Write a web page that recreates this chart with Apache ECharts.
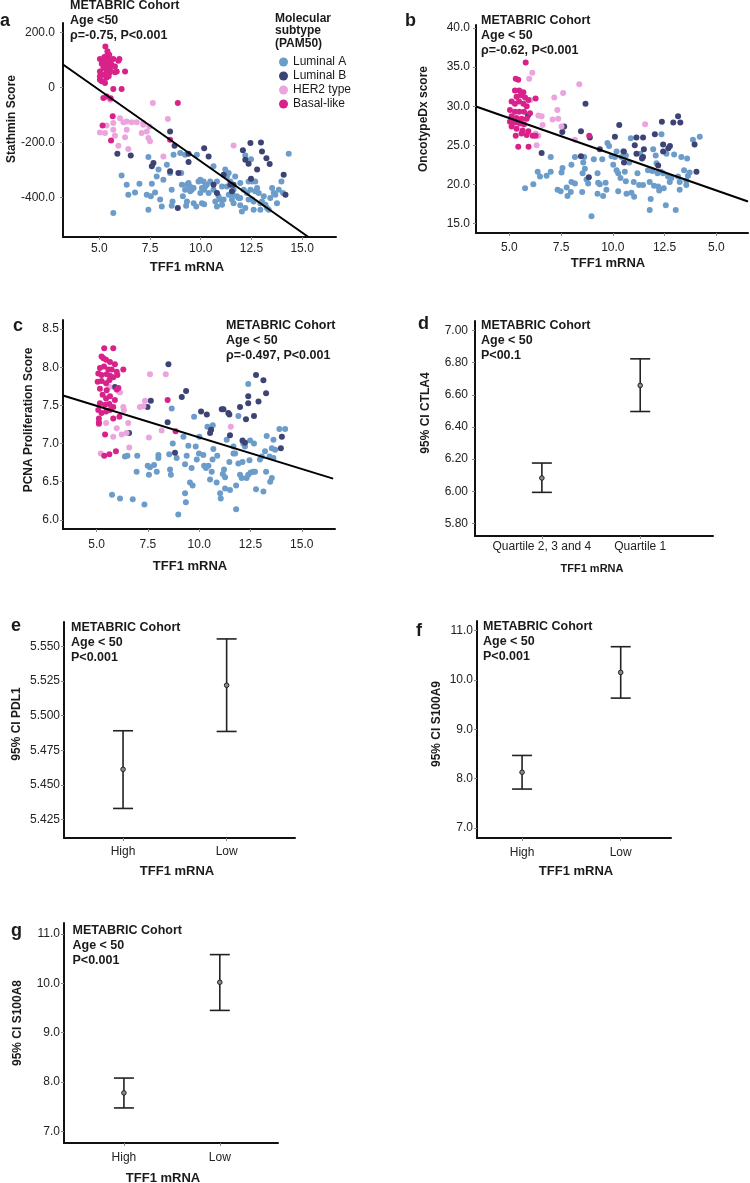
<!DOCTYPE html>
<html>
<head>
<meta charset="utf-8">
<script src="https://cdn.jsdelivr.net/npm/echarts@6/dist/echarts.min.js"></script>
<style>
  html, body { margin: 0; padding: 0; background: #fff; }
  #chart { width: 750px; height: 1183px; }
</style>
</head>
<body>
<div id="chart"></div>
<script>
// ---- panel a: Stathmin score vs TFF1 mRNA ----
const aLumA = [[6.1,-320],[6.35,-354],[6.43,-390],[6.76,-382],[6.98,-350],[7.42,-253],[7.59,-350],[7.34,-390],[7.54,-396],[7.75,-382],[7.83,-324],[7.92,-299],[8.0,-408],[8.08,-433],[8.16,-336],[8.33,-281],[8.49,-311],[8.57,-372],[8.61,-415],[8.66,-245],[8.99,-239],[9.04,-311],[9.07,-354],[9.12,-396],[9.23,-372],[9.32,-354],[9.4,-348],[9.48,-360],[9.56,-372],[9.65,-366],[9.48,-378],[9.32,-415],[9.65,-421],[9.78,-433],[9.81,-245],[9.89,-342],[9.98,-336],[10.06,-366],[10.14,-342],[10.22,-360],[10.3,-354],[10.39,-384],[10.47,-342],[10.63,-287],[10.63,-372],[10.72,-415],[10.8,-342],[10.88,-396],[10.96,-408],[11.05,-427],[11.13,-408],[11.21,-299],[11.29,-324],[11.38,-311],[11.46,-342],[11.54,-408],[11.62,-421],[11.7,-324],[11.79,-396],[11.87,-402],[11.95,-402],[12.03,-451],[12.2,-439],[12.28,-384],[12.36,-408],[12.45,-372],[12.53,-408],[12.61,-415],[12.69,-342],[12.78,-366],[12.86,-384],[12.94,-421],[13.02,-415],[13.11,-396],[13.19,-427],[13.27,-439],[13.35,-445],[13.43,-402],[13.52,-366],[13.6,-384],[13.68,-390],[13.76,-421],[13.85,-372],[13.98,-342],[14.06,-384],[14.34,-241],[5.69,-457],[7.42,-445],[8.57,-430],[9.28,-430],[10.17,-425],[9.23,-245],[12.2,-248],[12.69,-378],[12.36,-342],[12.94,-445],[12.53,-342],[11.29,-360],[11.62,-372],[11.57,-388],[12.12,-372],[11.95,-348],[12.48,-261],[9.98,-384],[10.17,-372],[11.05,-360],[10.06,-421],[11.38,-390],[12.61,-445],[10.8,-433],[11.95,-429]];
const aLumB = [[8.49,-160],[5.89,-241],[6.55,-248],[7.67,-275],[7.59,-287],[8.71,-212],[8.49,-305],[8.9,-311],[9.4,-241],[9.4,-271],[10.17,-221],[10.39,-251],[11.13,-318],[11.46,-354],[12.45,-202],[12.97,-200],[12.2,-263],[12.08,-229],[12.36,-278],[12.78,-299],[13.24,-258],[13.4,-279],[12.48,-332],[13.02,-233],[14.09,-318],[14.18,-390],[11.62,-354],[10.8,-384],[8.87,-439],[10.63,-354],[11.54,-378]];
const aHer2 = [[5.53,-45],[7.64,-57],[8.38,-115],[5.03,-164],[5.36,-139],[5.69,-130],[6.02,-112],[6.19,-127],[6.35,-124],[6.6,-127],[6.35,-154],[6.85,-127],[7.17,-130],[7.34,-160],[7.47,-142],[5.28,-166],[5.77,-176],[6.27,-181],[5.94,-212],[6.43,-224],[7.09,-166],[7.42,-184],[7.5,-196],[8.16,-251],[11.62,-211],[7.17,-136],[5.69,-154]];
const aBasal = [[5.3,149],[5.4,131],[5.03,103],[5.2,101],[5.33,113],[5.49,119],[5.69,103],[5.12,86],[5.28,82],[5.44,88],[5.61,82],[5.77,76],[5.99,103],[5.2,70],[5.36,67],[5.53,64],[5.03,58],[5.36,58],[5.49,52],[5.77,55],[6.27,58],[5.03,28],[5.12,22],[5.28,16],[5.69,-6],[6.1,-6],[5.36,-33],[5.2,-39],[5.56,-40],[5.16,-139],[5.66,-105],[5.58,-193],[8.49,-190],[8.87,-57],[5.03,40],[5.2,46],[5.46,40],[5.23,91],[5.4,101],[5.86,58],[5.94,97],[5.33,95],[5.45,75],[5.25,110],[5.55,100],[5.35,35]];
const aFit = [[3.21,83],[15.31,-544]];

// ---- panel b: OncotypeDx score vs TFF1 mRNA ----
const bLumA = [[5.76,19.5],[6.16,20.0],[6.37,21.6],[6.48,21.0],[6.8,21.1],[7.0,21.6],[7.0,23.5],[7.33,19.3],[7.48,19.1],[7.52,21.5],[7.57,22.1],[7.77,19.6],[7.81,18.5],[7.97,19.0],[8.0,20.3],[8.0,22.5],[8.17,23.5],[8.17,20.1],[8.54,21.4],[8.57,22.8],[8.62,23.5],[8.65,22.0],[8.73,20.6],[8.52,19.0],[8.81,20.1],[8.97,15.9],[9.08,23.2],[9.26,21.4],[9.29,20.2],[9.37,20.0],[9.26,18.8],[9.49,23.2],[9.53,18.5],[9.65,20.2],[9.69,19.3],[9.74,25.3],[9.82,24.9],[10.02,22.5],[10.1,23.5],[10.18,24.2],[10.18,21.8],[10.26,21.4],[10.26,19.1],[10.37,20.8],[10.42,23.5],[10.5,24.2],[10.63,20.4],[10.58,21.6],[10.66,18.8],[10.63,23.7],[10.79,22.8],[10.9,18.9],[10.87,25.9],[11.01,20.3],[11.03,18.4],[11.19,21.4],[11.27,19.9],[11.33,23.9],[11.46,19.9],[11.78,20.3],[11.7,21.8],[11.78,16.7],[11.83,18.1],[11.91,21.7],[11.95,24.5],[11.99,19.8],[12.07,23.7],[12.11,22.7],[12.16,21.4],[12.19,19.7],[12.24,19.2],[12.32,21.6],[12.35,26.4],[12.43,21.4],[12.46,19.5],[12.56,17.3],[12.59,23.9],[12.67,21.0],[12.75,20.3],[12.83,20.8],[12.96,23.8],[13.04,16.7],[13.15,21.0],[13.23,19.3],[13.23,20.3],[13.31,23.5],[13.44,21.8],[13.55,20.5],[13.59,23.3],[13.63,21.1],[13.71,21.5],[13.55,19.9],[13.87,25.7],[14.2,26.1],[9.94,23.6]];
const bLumB = [[5.9,28.8],[8.68,30.3],[7.65,27.4],[7.56,26.7],[8.46,26.8],[8.89,26.0],[9.37,24.5],[6.56,24.0],[8.46,23.6],[8.84,20.9],[10.31,27.6],[10.1,26.1],[11.14,26.0],[11.46,26.0],[11.06,25.0],[11.5,24.5],[11.46,23.5],[11.41,23.3],[12.03,26.4],[12.37,28.0],[12.43,25.1],[12.43,24.2],[12.68,24.6],[12.76,24.9],[12.19,22.4],[12.92,27.9],[13.15,28.7],[13.26,27.9],[13.95,25.1],[14.04,21.6],[10.53,24.2],[10.54,22.8],[11.14,23.9]];
const bHer2 = [[6.11,34.3],[5.96,33.5],[8.38,32.8],[7.6,31.7],[7.17,31.1],[6.03,30.8],[7.32,29.5],[6.4,28.8],[6.56,28.7],[7.09,28.3],[7.36,28.4],[6.61,27.6],[7.52,27.4],[6.27,26.5],[6.4,26.2],[6.32,25.0],[11.56,27.7],[8.17,25.7]];
const bBasal = [[5.79,35.6],[5.31,33.5],[5.43,33.4],[5.27,32.0],[5.48,32.0],[5.68,31.8],[5.35,31.2],[5.55,31.4],[5.76,31.1],[5.92,30.8],[5.11,30.6],[5.27,30.3],[5.47,30.6],[5.68,30.3],[5.84,30.0],[6.27,31.0],[5.03,29.5],[5.27,29.3],[5.48,29.3],[5.71,29.3],[6.0,29.1],[5.11,28.7],[5.35,28.5],[5.59,28.4],[5.84,28.4],[5.03,28.0],[5.27,27.9],[5.51,27.8],[5.71,27.7],[5.11,27.4],[5.35,27.1],[5.64,26.9],[5.92,26.8],[5.31,26.2],[5.59,26.5],[5.84,26.3],[6.13,26.2],[6.27,26.2],[5.43,24.8],[5.93,24.8],[8.86,26.2]];
const bFit = [[3.39,29.96],[16.53,17.8]];

// ---- panel c: PCNA proliferation score vs TFF1 mRNA ----
const cLumA = [[5.75,6.33],[6.14,6.28],[6.76,6.27],[7.33,6.2],[6.38,6.83],[6.5,6.84],[6.98,6.84],[6.95,6.63],[7.49,6.71],[7.55,6.59],[7.6,6.69],[7.8,6.72],[7.93,6.63],[8.01,6.81],[8.01,6.85],[8.54,6.86],[8.58,6.66],[8.62,6.59],[8.66,7.46],[8.71,7.0],[8.9,6.81],[8.98,6.07],[9.23,7.09],[9.31,6.73],[9.31,6.35],[9.35,6.23],[9.39,6.84],[9.47,6.97],[9.55,6.49],[9.63,6.68],[9.68,6.45],[9.75,7.35],[9.83,6.96],[10.01,7.09],[10.2,6.85],[10.24,6.71],[10.33,6.68],[10.4,7.22],[10.45,6.71],[10.53,6.53],[10.61,6.63],[10.65,6.79],[10.66,7.24],[10.69,6.93],[10.85,6.49],[11.02,6.35],[11.05,6.28],[11.15,6.6],[11.21,6.66],[11.26,6.56],[11.47,6.76],[11.5,6.39],[11.67,6.87],[11.75,6.87],[11.8,6.45],[11.8,6.14],[11.91,7.36],[11.91,6.74],[11.99,6.59],[12.07,6.55],[12.11,6.76],[12.15,7.0],[12.23,6.96],[12.31,6.55],[12.39,6.59],[12.39,7.78],[12.45,6.78],[12.51,6.62],[12.64,6.63],[12.67,7.0],[12.72,6.63],[12.77,6.4],[12.96,6.79],[13.05,6.83],[13.13,6.37],[13.21,6.9],[13.26,6.63],[13.29,7.1],[13.46,6.5],[13.54,6.94],[13.62,7.05],[13.62,6.81],[13.7,6.92],[13.91,7.19],[14.19,7.19],[13.43,6.83],[13.54,6.55],[11.34,7.05],[11.67,6.96],[12.48,7.04],[9.88,6.79],[9.99,6.87],[10.88,6.84],[11.26,6.41]];
const cLumB = [[5.89,7.74],[6.58,7.14],[7.64,7.56],[7.48,7.48],[8.5,8.04],[8.46,7.28],[8.82,6.88],[9.15,7.61],[9.36,7.69],[10.09,7.42],[10.37,7.38],[10.58,7.18],[10.53,7.14],[11.1,7.45],[11.18,7.45],[11.42,7.4],[11.47,7.38],[11.5,7.11],[11.99,7.48],[12.11,7.04],[12.23,7.01],[12.28,7.32],[12.39,7.53],[12.39,7.62],[12.77,7.9],[12.89,7.55],[13.13,7.83],[13.26,7.66],[12.67,7.36],[14.03,7.09],[13.98,6.94]];
const cHer2 = [[5.62,7.74],[6.06,7.69],[6.14,7.67],[6.3,7.48],[6.33,7.44],[6.54,7.27],[5.98,7.2],[6.22,7.12],[6.46,7.14],[5.81,7.09],[5.2,6.87],[5.46,7.27],[6.59,6.95],[7.11,7.48],[7.28,7.49],[7.36,7.56],[7.55,7.08],[7.6,7.91],[8.37,7.91],[8.17,7.17],[11.54,7.22]];
const cBasal = [[5.37,8.25],[5.81,8.25],[5.24,8.14],[5.33,8.12],[5.46,8.1],[5.65,8.07],[5.89,8.04],[5.16,7.99],[5.36,8.01],[5.57,7.97],[5.73,7.97],[5.98,7.94],[6.3,7.97],[5.08,7.92],[5.24,7.9],[5.49,7.91],[5.65,7.89],[5.81,7.87],[6.01,7.9],[5.05,7.81],[5.24,7.82],[5.46,7.79],[5.62,7.83],[5.16,7.72],[5.49,7.7],[5.98,7.71],[6.06,7.73],[5.29,7.64],[5.46,7.59],[5.65,7.62],[5.89,7.57],[5.16,7.53],[5.41,7.51],[5.62,7.52],[5.81,7.48],[5.08,7.44],[5.24,7.4],[5.46,7.42],[5.65,7.44],[5.11,7.33],[5.81,7.33],[6.11,7.35],[5.11,7.28],[5.11,7.26],[5.41,7.12],[5.94,6.9],[5.37,6.84],[5.62,6.86],[8.46,7.57],[8.85,7.16]];
const cFit = [[3.36,7.63],[16.53,6.54]];

// ---- panels d-g: 95% CI error bars ----
const dCats = ['Quartile 2, 3 and 4', 'Quartile 1'];
const dMean = [6.083, 6.658];
const dLow = [5.994, 6.496];
const dHigh = [6.176, 6.823];

const hlCats = ['High', 'Low'];
const eMean = [5.4613, 5.5219];
const eLow = [5.4331, 5.4886];
const eHigh = [5.4891, 5.5553];

const fMean = [8.13, 10.15];
const fLow = [7.79, 9.63];
const fHigh = [8.47, 10.67];

const gMean = [7.78, 10.02];
const gLow = [7.475, 9.45];
const gHigh = [8.08, 10.58];

// tick labels
const scatterXTicks = [5, 7.5, 10, 12.5, 15];
const acXLabels = ['5.0', '7.5', '10.0', '12.5', '15.0'];
const bXLabels = ['5.0', '7.5', '10.0', '12.5', '5.0'];
const aYTicks = [-400, -200, 0, 200];
const bYTicks = [15, 20, 25, 30, 35, 40];
const cYTicks = [6.0, 6.5, 7.0, 7.5, 8.0, 8.5];
const dYTicks = [5.8, 6.0, 6.2, 6.4, 6.6, 6.8, 7.0];
const eYTicks = [5.425, 5.45, 5.475, 5.5, 5.525, 5.55];
const fgYTicks = [7, 8, 9, 10, 11];

const subtypes = ['Luminal A', 'Luminal B', 'HER2 type', 'Basal-like'];
const colors = ['#6c9cc9', '#3d4374', '#eba4de', '#d8228a'];

const FONT = 'Liberation Sans, Arial, sans-serif';
const TXT = '#1a1a1a';

const myChart = echarts.init(document.getElementById('chart'));

function xAxisOf(grid, min, max, ticks, fmt, margin) {
    return {
        type: 'value', gridIndex: grid, min: min, max: max,
        splitLine: { show: false },
        axisLine: { onZero: false, lineStyle: { color: '#111', width: 2 } },
        axisTick: { customValues: ticks, length: 3, lineStyle: { color: '#888' } },
        axisLabel: { customValues: ticks, formatter: fmt, margin: margin, color: '#222', fontSize: 12, fontFamily: FONT }
    };
}
function yAxisOf(grid, min, max, ticks, fmt, margin) {
    return {
        type: 'value', gridIndex: grid, min: min, max: max,
        splitLine: { show: false },
        axisLine: { show: true, onZero: false, lineStyle: { color: '#111', width: 2 } },
        axisTick: { show: true, customValues: ticks, length: 3, lineStyle: { color: '#888' } },
        axisLabel: { customValues: ticks, formatter: fmt, margin: margin, color: '#222', fontSize: 12, fontFamily: FONT }
    };
}
function labelFrom(ticks, labels) {
    return function (v) {
        let i = ticks.findIndex(t => Math.abs(t - v) < 1e-9);
        return i < 0 ? '' : labels[i];
    };
}

function scatterSeries(grid, groups) {
    return groups.map((data, i) => ({
        name: subtypes[i], type: 'scatter', xAxisIndex: grid, yAxisIndex: grid,
        data: data, symbolSize: 6, itemStyle: { color: colors[i], opacity: 1 }, z: 2 + i
    }));
}
function fitSeries(grid, data) {
    return {
        type: 'line', xAxisIndex: grid, yAxisIndex: grid, data: data, symbol: 'none',
        lineStyle: { color: '#000', width: 2 }, z: 10, silent: true
    };
}

function renderErr(params, api) {
    const x = api.value(0);
    const lo = api.coord([x, api.value(1)]);
    const hi = api.coord([x, api.value(2)]);
    const m = api.coord([x, api.value(3)]);
    const w = 10;
    const st = { stroke: '#222', lineWidth: 1.6 };
    return {
        type: 'group', children: [
            { type: 'line', shape: { x1: lo[0], y1: lo[1], x2: hi[0], y2: hi[1] }, style: st },
            { type: 'line', shape: { x1: lo[0] - w, y1: lo[1], x2: lo[0] + w, y2: lo[1] }, style: st },
            { type: 'line', shape: { x1: hi[0] - w, y1: hi[1], x2: hi[0] + w, y2: hi[1] }, style: st },
            { type: 'circle', shape: { cx: m[0], cy: m[1], r: 2.3 }, style: { fill: '#8a8a8a', stroke: '#222', lineWidth: 1 } }
        ]
    };
}
function errSeries(grid, mean, low, high) {
    return {
        type: 'custom', xAxisIndex: grid, yAxisIndex: grid, renderItem: renderErr,
        data: mean.map((v, i) => [i + 1, low[i], high[i], v])
    };
}

function txt(x, y, text, size, opts) {
    opts = opts || {};
    return {
        type: 'text', x: x, y: y, rotation: opts.rotate ? Math.PI / 2 : 0, z: 20,
        style: {
            text: text, fill: TXT, fontSize: size, fontWeight: opts.normal ? 'normal' : 'bold',
            fontFamily: FONT, align: opts.align || 'left', verticalAlign: opts.va || 'middle',
            lineHeight: opts.lh || size
        }
    };
}
function note(x, yFirst, text) {
    return txt(x, yFirst - 7.5, text, 12.5, { va: 'top', lh: 15 });
}

const catX = [1, 2];
const fmt1 = v => v === 0 ? '0' : v.toFixed(1);

myChart.setOption({
    animation: false,
    grid: [
        { left: 63, top: 23, width: 273, height: 214 },
        { left: 476, top: 25, width: 272, height: 208 },
        { left: 63, top: 320, width: 272, height: 209 },
        { left: 475, top: 321, width: 238, height: 215 },
        { left: 64, top: 622, width: 231, height: 216 },
        { left: 477, top: 621, width: 194, height: 217 },
        { left: 64, top: 923, width: 214, height: 220 }
    ],
    legend: {
        data: subtypes, orient: 'vertical', left: 274, top: 51,
        icon: 'circle', itemWidth: 9, itemHeight: 9, itemGap: 2,
        textStyle: { fontSize: 12, fontFamily: FONT, color: TXT, lineHeight: 12 }
    },
    xAxis: [
        xAxisOf(0, 3.21, 16.67, scatterXTicks, labelFrom(scatterXTicks, acXLabels), 6),
        xAxisOf(1, 3.39, 16.53, scatterXTicks, labelFrom(scatterXTicks, bXLabels), 9),
        xAxisOf(2, 3.36, 16.62, scatterXTicks, labelFrom(scatterXTicks, acXLabels), 10),
        xAxisOf(3, 0.32, 2.74, catX, labelFrom(catX, dCats), 5),
        xAxisOf(4, 0.43, 2.66, catX, labelFrom(catX, hlCats), 8),
        xAxisOf(5, 0.543, 2.51, catX, labelFrom(catX, hlCats), 9),
        xAxisOf(6, 0.375, 2.607, catX, labelFrom(catX, hlCats), 9)
    ],
    yAxis: [
        yAxisOf(0, -544, 234, aYTicks, fmt1, 8),
        yAxisOf(1, 13.76, 40.4, bYTicks, v => v.toFixed(1), 6),
        yAxisOf(2, 5.88, 8.62, cYTicks, v => v.toFixed(1), 4),
        yAxisOf(3, 5.723, 7.058, dYTicks, v => v.toFixed(2), 7),
        yAxisOf(4, 5.4118, 5.5675, eYTicks, v => v.toFixed(3), 4),
        yAxisOf(5, 6.8, 11.19, fgYTicks, v => v.toFixed(1), 4),
        yAxisOf(6, 6.765, 11.22, fgYTicks, v => v.toFixed(1), 4)
    ],
    series: [].concat(
        scatterSeries(0, [aLumA, aLumB, aHer2, aBasal]), [fitSeries(0, aFit)],
        scatterSeries(1, [bLumA, bLumB, bHer2, bBasal]), [fitSeries(1, bFit)],
        scatterSeries(2, [cLumA, cLumB, cHer2, cBasal]), [fitSeries(2, cFit)],
        [errSeries(3, dMean, dLow, dHigh), errSeries(4, eMean, eLow, eHigh),
         errSeries(5, fMean, fLow, fHigh), errSeries(6, gMean, gLow, gHigh)]
    ),
    graphic: [
        // panel letters
        txt(0, 21.5, 'a', 18), txt(405, 21, 'b', 18), txt(13, 326, 'c', 18), txt(418, 324, 'd', 18),
        txt(11, 626, 'e', 18), txt(416, 631, 'f', 18), txt(11, 931, 'g', 18),
        // annotations
        note(70, 5.5, 'METABRIC Cohort\nAge <50\nρ=-0.75, P<0.001'),
        note(481, 20.5, 'METABRIC Cohort\nAge < 50\nρ=-0.62, P<0.001'),
        note(226, 325.5, 'METABRIC Cohort\nAge < 50\nρ=-0.497, P<0.001'),
        note(481, 326, 'METABRIC Cohort\nAge < 50\nP<00.1'),
        note(71, 627.5, 'METABRIC Cohort\nAge < 50\nP<0.001'),
        note(483, 627, 'METABRIC Cohort\nAge < 50\nP<0.001'),
        note(72.5, 931, 'METABRIC Cohort\nAge < 50\nP<0.001'),
        // legend title
        txt(275, 12, 'Molecular\nsubtype\n(PAM50)', 12, { va: 'top', lh: 12.5 }),
        // x axis names
        txt(187, 267, 'TFF1 mRNA', 13, { align: 'center' }),
        txt(608, 263, 'TFF1 mRNA', 13, { align: 'center' }),
        txt(190, 566, 'TFF1 mRNA', 13, { align: 'center' }),
        txt(592, 569, 'TFF1 mRNA', 11, { align: 'center' }),
        txt(177, 871, 'TFF1 mRNA', 13, { align: 'center' }),
        txt(576, 871, 'TFF1 mRNA', 13, { align: 'center' }),
        txt(163, 1178, 'TFF1 mRNA', 13, { align: 'center' }),
        // y axis names
        txt(12, 119, 'Stathmin Score', 12, { align: 'center', rotate: true }),
        txt(424, 119, 'OncotypeDx score', 12, { align: 'center', rotate: true }),
        txt(29, 420, 'PCNA Proliferation Score', 12, { align: 'center', rotate: true }),
        txt(426, 413, '95% CI CTLA4', 12, { align: 'center', rotate: true }),
        txt(17, 724, '95% CI PDL1', 12, { align: 'center', rotate: true }),
        txt(437, 724, '95% CI S100A9', 12, { align: 'center', rotate: true }),
        txt(17.5, 1023, '95% CI S100A8', 12, { align: 'center', rotate: true })
    ]
});
</script>
</body>
</html>
